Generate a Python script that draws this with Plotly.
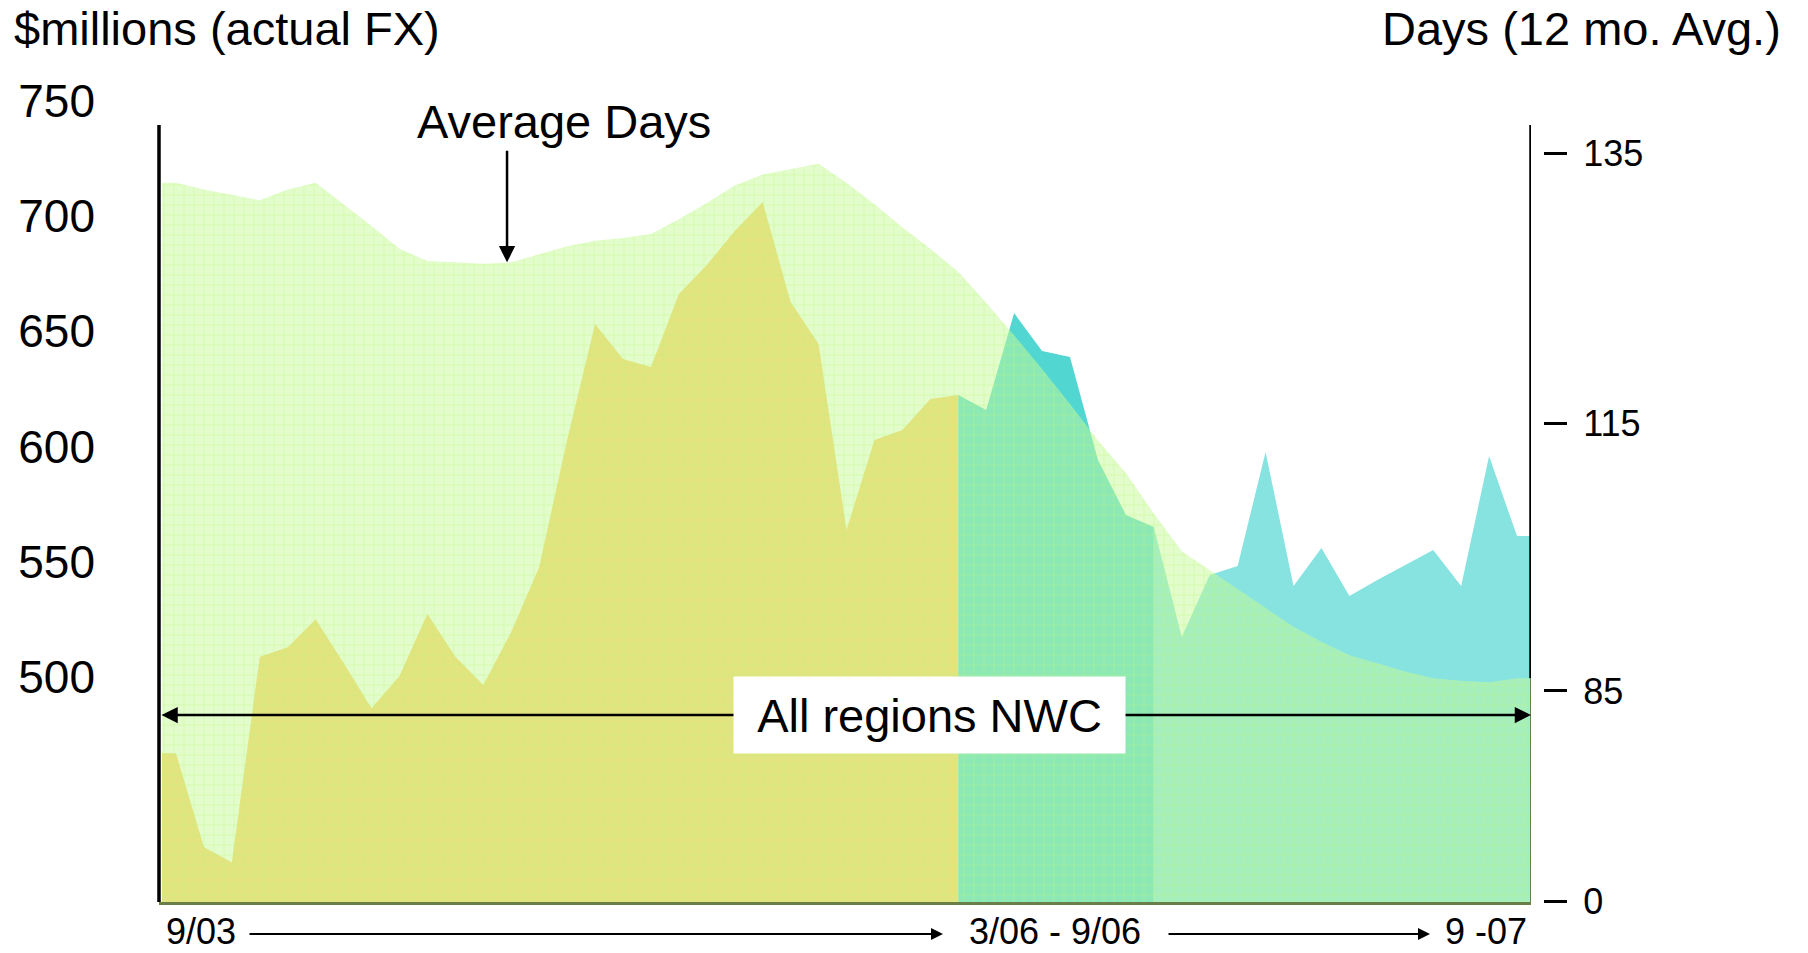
import plotly.graph_objects as go

# ---------------- data ----------------
months = []
y0, m0 = 2003, 9
for k in range(49):
    mm = (m0 - 1 + k) % 12 + 1
    yy = y0 + (m0 - 1 + k) // 12
    months.append(f"{mm}/{str(yy)[2:]}")

# Net working capital, $ millions (actual FX)
nwc = [466.9, 426.3, 419.6, 508.8, 512.9, 525.0, 506.1, 486.4, 500.4, 527.3,
       508.8, 496.5, 519.5, 547.7, 602.8, 653.1, 637.9, 634.4, 666.1, 678.7,
       693.4, 706.0, 662.6, 644.4, 563.7, 602.8, 607.1, 620.6, 622.3, 615.8,
       657.8, 641.4, 638.8, 594.1, 570.3, 565.0, 517.3, 544.2, 548.1, 597.6,
       539.5, 555.9, 535.1, 542.1, 548.6, 555.1, 539.5, 595.8, 561.1]

# Average days (12 month average)
days = [132.8, 132.3, 131.9, 131.5, 132.3, 132.8, 131.2, 129.6, 127.9, 127.0,
        126.9, 126.8, 126.9, 127.5, 128.1, 128.5, 128.7, 129.0, 130.1, 131.3,
        132.6, 133.4, 133.8, 134.2, 132.8, 131.2, 129.5, 127.9, 126.2, 123.9,
        121.5, 119.0, 116.4, 113.7, 111.3, 108.3, 105.5, 104.1, 102.7, 101.3,
        99.9, 98.8, 97.8, 97.2, 96.6, 96.1, 95.9, 95.8, 96.1]

period_breaks = [28, 35]          # month index where the NWC colour changes
period_colors = ["#FFCC66", "#52D6D2", "#87E3E0"]

left_ticks = [500, 550, 600, 650, 700, 750]
right_tick_text = ["135", "115", "85", "0"]
right_tick_pos = [135, 115, 95.15, 79.56]

# ---------------- figure ----------------
W, H = 1808, 953
ML, MR, MT, MB = 159, 265, 60, 51
PW, PH = W - ML - MR, H - MT - MB
FONT = "Liberation Sans, Arial, sans-serif"


def px(xp):
    return (xp - ML) / PW


def py(yp):
    return (H - MB - yp) / PH


n = len(nwc)
xs = list(range(n))
fig = go.Figure()

# NWC segments (opaque), with half-band flats at the chart edges
bounds = [0] + period_breaks + [n - 1]
for s in range(3):
    a, b = bounds[s], bounds[s + 1]
    sx = list(range(a, b + 1))
    sy = nwc[a:b + 1]
    if s == 0:
        sx = [-0.5] + sx
        sy = [nwc[0]] + sy
    if s == 2:
        sx = sx + [n - 0.5]
        sy = sy + [nwc[-1]]
    fig.add_trace(go.Scatter(
        x=sx, y=sy, mode="lines", line=dict(width=0, color=period_colors[s]),
        fill="tozeroy", fillcolor=period_colors[s], yaxis="y",
        customdata=[months[int(round(v))] if 0 <= v < n else "" for v in sx],
        showlegend=False, hoverinfo="skip"))

# Average days area (semi transparent, grid pattern)
dx = [-0.5] + xs + [n - 0.5]
dy = [days[0]] + days + [days[-1]]
fig.add_trace(go.Scatter(
    x=dx, y=dy, mode="lines", line=dict(width=0, color="rgba(197,251,151,0.5)"),
    fill="tozeroy", fillcolor="rgba(197,251,151,0.5)",
    fillpattern=dict(shape="+", size=10, solidity=0.14,
                     fgcolor="rgba(185,248,120,0.95)",
                     bgcolor="rgba(197,251,151,0.5)"),
    yaxis="y2", showlegend=False, hoverinfo="skip"))

# y ranges calibrated to the picture
y_lo, y_hi = 500 - (H - MB - 677) / 2.306, 500 + (677 - MT) / 2.306
d_lo, d_hi = 115 - (H - MB - 423) / 13.5, 115 + (423 - MT) / 13.5
x_lo = -0.5 - (162 - ML) / 27.94
x_hi = n - 0.5
x_dom_end = (1531 - ML) / PW

fig.update_layout(
    width=W, height=H, margin=dict(l=ML, r=MR, t=MT, b=MB),
    paper_bgcolor="white", plot_bgcolor="white",
    font=dict(family=FONT, color="black"),
    xaxis=dict(domain=[0, x_dom_end], range=[x_lo, x_hi], showticklabels=False,
               ticks="", showgrid=False, zeroline=False,
               showline=True, linecolor="#6a7f48", linewidth=3),
    yaxis=dict(range=[y_lo, y_hi], tickvals=left_ticks, ticks="",
               showgrid=False, zeroline=False, showline=False,
               tickfont=dict(size=46, family=FONT), ticklabelstandoff=63),
    yaxis2=dict(range=[d_lo, d_hi], overlaying="y", side="right", anchor="free",
                position=1.0, tickvals=right_tick_pos, ticktext=right_tick_text,
                ticks="outside", ticklen=23, tickwidth=2.5, tickcolor="black",
                showgrid=False, zeroline=False, showline=False,
                tickfont=dict(size=36, family=FONT), ticklabelstandoff=9),
)

# axis lines drawn as in the original
top_paper = py(125)
fig.add_shape(type="line", xref="paper", yref="paper", x0=0, x1=0,
              y0=0, y1=top_paper, line=dict(color="black", width=3.5), layer="above")
fig.add_shape(type="line", xref="x", yref="y2", x0=n - 0.5, x1=n - 0.5,
              y0=days[-1], y1=d_lo + (d_hi - d_lo) * top_paper,
              line=dict(color="black", width=3.5), layer="above")
fig.add_shape(type="line", xref="x", yref="y2", x0=n - 0.5, x1=n - 0.5,
              y0=d_lo, y1=days[-1], line=dict(color="#6a7f48", width=2), layer="above")

ann = []
ann.append(dict(text="$millions (actual FX)", xref="paper", yref="paper",
                x=px(12), y=py(29), xanchor="left", yanchor="middle",
                showarrow=False, font=dict(size=47)))
ann.append(dict(text="Days (12 mo. Avg.)", xref="paper", yref="paper",
                x=px(1783), y=py(29), xanchor="right", yanchor="middle",
                showarrow=False, font=dict(size=47)))
ann.append(dict(text="Average Days", xref="paper", yref="paper",
                x=px(564), y=py(121), xanchor="center", yanchor="middle",
                showarrow=False, font=dict(size=47)))
ann.append(dict(text="", xref="x", yref="y2", x=11.85, y=days[12],
                showarrow=True, ax=0, ay=-113, arrowhead=2, arrowsize=1.3,
                arrowwidth=2.5, arrowcolor="black", standoff=0))
# double arrow across chart
ann.append(dict(text="", xref="x", yref="paper", x=n - 0.5, y=py(715),
                showarrow=True, ax=-(1530 - ML), ay=0, arrowhead=2, startarrowhead=2,
                arrowside="end+start", arrowsize=1.3, startarrowsize=1.3,
                arrowwidth=2.5, arrowcolor="black", standoff=0, startstandoff=0))
ann.append(dict(text="All regions NWC", xref="paper", yref="paper",
                x=px(929.5), y=py(715), xanchor="center", yanchor="middle",
                showarrow=False, bgcolor="white", width=391, height=76,
                borderpad=0, font=dict(size=47)))
# bottom period labels
ann.append(dict(text="9/03", xref="paper", yref="paper", x=px(164), y=py(932),
                xanchor="left", yanchor="middle", showarrow=False, font=dict(size=36)))
ann.append(dict(text="", xref="paper", yref="paper", x=px(943), y=py(934),
                showarrow=True, ax=-(943 - 248), ay=0, arrowhead=2, arrowsize=1.2,
                arrowwidth=2, arrowcolor="black", standoff=0))
ann.append(dict(text="3/06 - 9/06", xref="paper", yref="paper", x=px(1055), y=py(932),
                xanchor="center", yanchor="middle", showarrow=False, font=dict(size=36)))
ann.append(dict(text="", xref="paper", yref="paper", x=px(1430), y=py(934),
                showarrow=True, ax=-(1430 - 1167), ay=0, arrowhead=2, arrowsize=1.2,
                arrowwidth=2, arrowcolor="black", standoff=0))
ann.append(dict(text="9 -07", xref="paper", yref="paper", x=px(1529), y=py(932),
                xanchor="right", yanchor="middle", showarrow=False, font=dict(size=36)))
fig.update_layout(annotations=ann)

fig.write_html("out.html", config={"displayModeBar": False},
               post_script="document.body.style.margin='0';document.body.style.overflow='hidden';")
